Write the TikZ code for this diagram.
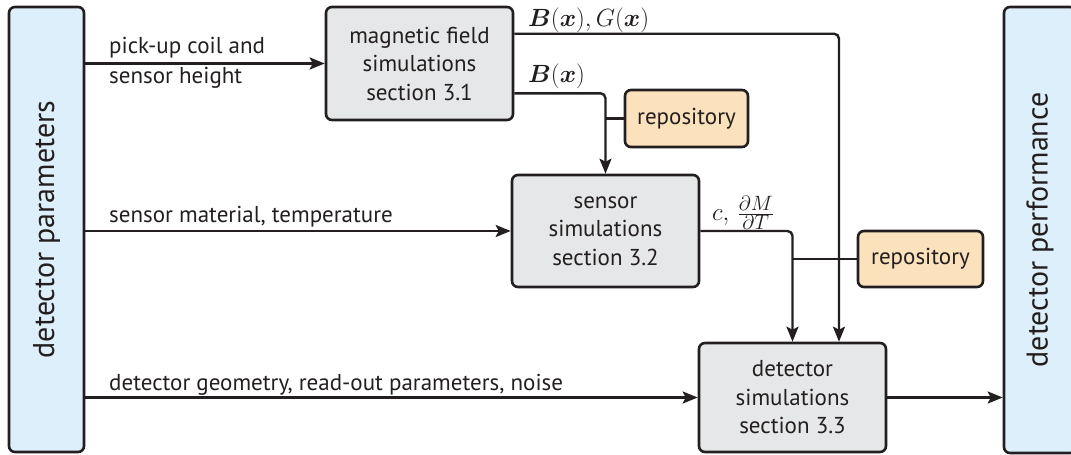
\documentclass[tikz,border=0pt]{standalone}
\usepackage{amsmath}
\usepackage{fontspec}
\setmainfont{PT Sans}
\usetikzlibrary{arrows.meta}
\definecolor{ink}{HTML}{231F20}
\definecolor{paramblue}{HTML}{DDEFFA}
\definecolor{simgray}{HTML}{E6E7E8}
\definecolor{repoorange}{HTML}{FBE1BC}
\tikzset{
  base/.style={draw=ink, line width=2.6pt, rounded corners=6pt, inner sep=0pt, text=ink,
    font=\fontsize{23}{28.5}\selectfont, align=center},
  sidebox/.style={base, fill=paramblue},
  simbox/.style={base, fill=simgray, minimum width=187pt},
  repobox/.style={base, fill=repoorange},
  conn/.style={draw=ink, line width=2.4pt, rounded corners=5pt},
  arr/.style={conn, -{Stealth[length=15pt, width=12pt, inset=3pt]}},
  lbl/.style={text=ink, font=\fontsize{23}{30}\selectfont, align=left, inner sep=0pt},
  biglbl/.style={text=ink, font=\fontsize{30}{34}\selectfont, inner sep=0pt, rotate=90},
  mlbl/.style={text=ink, font=\fontsize{29.5}{30}\selectfont, inner sep=0pt},
}
\begin{document}
\begin{tikzpicture}[x=1pt, y=-1pt]
\useasboundingbox (0,0) rectangle (1071,455);
\clip (0,0) rectangle (1071,455);
% side boxes
\node[sidebox, minimum width=75pt, minimum height=445pt] (par) at (46.5,229.5) {};
\node[biglbl] (partext) at (par.center) {detector parameters};
\node[sidebox, minimum width=72pt, minimum height=446pt] (perf) at (1040,230) {};
\node[biglbl] (perftext) at (perf.center) {detector performance};
% simulation boxes
\node[simbox, minimum height=113pt] (mag) at (419.5,63.5) {magnetic field\\simulations\\section 3.1};
\node[simbox, minimum height=112pt] (sens) at (605.5,231) {sensor\\simulations\\section 3.2};
\node[simbox, minimum height=109pt] (det) at (792.5,397.5) {detector\\simulations\\section 3.3};
% repositories
\node[repobox, minimum width=123pt, minimum height=57pt] (repoA) at (686.5,118.5) {repository};
\node[repobox, minimum width=125pt, minimum height=56pt] (repoB) at (920.5,259) {repository};
% inputs
\draw[arr] (par.east |- mag.west) -- (mag.west);
\draw[arr] (par.east |- sens.west) -- (sens.west);
\draw[arr] (par.east |- det.west) -- (det.west);
\draw[arr] (det.east) -- (perf.west |- det.east);
% input labels
\node[lbl, anchor=base west] (l1) at (109,83) {pick-up coil and\\sensor height};
\node[lbl, anchor=base west] (l2) at (109,222) {sensor material, temperature};
\node[lbl, anchor=base west] (l3) at (109,390) {detector geometry, read-out parameters, noise};
% field outputs
\draw[arr] ([yshift=-28pt]mag.north east) -| ([xshift=46.5pt]det.north);
\draw[arr] ([yshift=28pt]mag.south east) -| (sens.north);
\draw[conn] (repoA.west) -- (sens.north |- repoA.west);
\draw[arr] (sens.east) -| (det.north);
\draw[conn] (repoB.west) -- (det.north |- repoB.west);
% output labels
\node[mlbl, anchor=base west] (m1) at (528,26) {$\boldsymbol{B}(\boldsymbol{x}), G(\boldsymbol{x})$};
\node[mlbl, anchor=base west] (m2) at (528,82) {$\boldsymbol{B}(\boldsymbol{x})$};
\node[mlbl, anchor=west] (m3) at (712,213) {$c,\,\frac{\partial M}{\partial T}$};
\end{tikzpicture}
\end{document}
